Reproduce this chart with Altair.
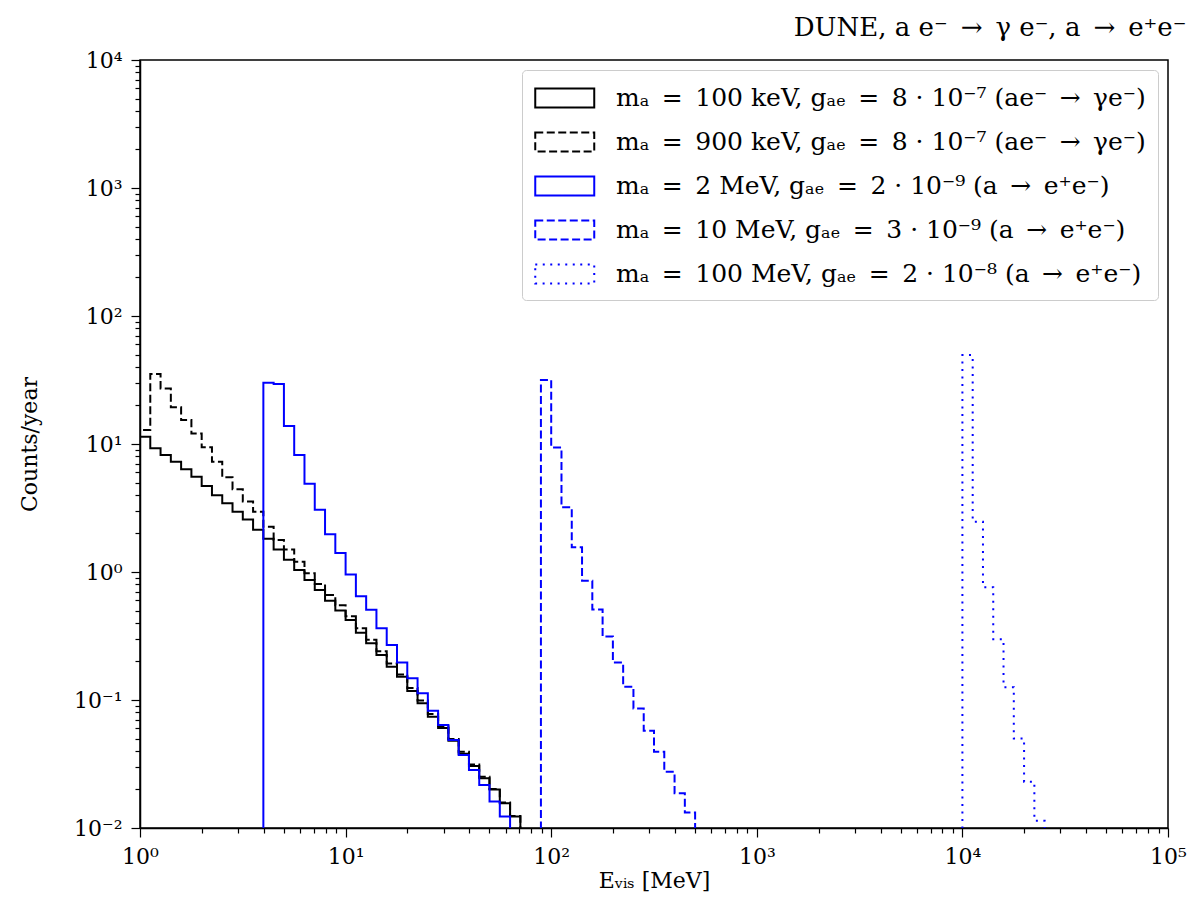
import altair as alt
import numpy as np
import pandas as pd

# Histogram binning: 20 logarithmic bins per decade from 1 MeV to 1e5 MeV
BINS_PER_DECADE = 20
BIN_EDGES = np.logspace(0, 5, 5 * BINS_PER_DECADE + 1)

SP = "\u2002"  # en space, mimics TeX math spacing around relations
SERIES = [
    f"mₐ{SP}={SP}100 keV, gₐₑ{SP}={SP}8 · 10⁻⁷ (ae⁻{SP}→{SP}γe⁻)",
    f"mₐ{SP}={SP}900 keV, gₐₑ{SP}={SP}8 · 10⁻⁷ (ae⁻{SP}→{SP}γe⁻)",
    f"mₐ{SP}={SP}2 MeV, gₐₑ{SP}={SP}2 · 10⁻⁹ (a{SP}→{SP}e⁺e⁻)",
    f"mₐ{SP}={SP}10 MeV, gₐₑ{SP}={SP}3 · 10⁻⁹ (a{SP}→{SP}e⁺e⁻)",
    f"mₐ{SP}={SP}100 MeV, gₐₑ{SP}={SP}2 · 10⁻⁸ (a{SP}→{SP}e⁺e⁻)",
]
START_BINS = [0, 0, 12, 39, 80]

COUNTS_100KEV = [11.4, 9.25, 8.2, 7.28, 6.34, 5.56, 4.70, 3.98, 3.44, 2.96,
                 2.57, 2.14, 1.82, 1.50, 1.245, 1.035, 0.865, 0.724, 0.596, 0.501,
                 0.422, 0.336, 0.277, 0.225, 0.182, 0.152, 0.1175, 0.0942, 0.0741, 0.0603,
                 0.0481, 0.038, 0.0305, 0.0245, 0.020, 0.0156, 0.0123]
COUNTS_900KEV = [12.85, 35.2, 27.2, 19.4, 15.4, 12.1, 9.42, 7.28, 5.5, 4.44,
                 3.55, 2.96, 2.26, 1.78, 1.50, 1.20, 0.977, 0.805, 0.66, 0.55,
                 0.452, 0.363, 0.295, 0.24, 0.193, 0.158, 0.124, 0.0989, 0.0776, 0.0624,
                 0.0495, 0.0394, 0.0313, 0.0251, 0.0202, 0.0158, 0.0124]
COUNTS_2MEV = [30.1, 29.4, 13.8, 8.2, 4.9, 3.07, 1.97, 1.41, 0.955, 0.646,
               0.507, 0.363, 0.269, 0.196, 0.148, 0.1127, 0.0826, 0.0638, 0.0487, 0.0372,
               0.0284, 0.0217, 0.0161, 0.0123]
COUNTS_10MEV = [31.6, 9.4, 3.2, 1.56, 0.855, 0.51, 0.313, 0.196, 0.127, 0.086,
                0.0575, 0.0394, 0.0275, 0.0187, 0.0132]
COUNTS_100MEV = [49.5, 2.47, 0.76, 0.298, 0.126, 0.050, 0.023, 0.0114]

ALL_COUNTS = [COUNTS_100KEV, COUNTS_900KEV, COUNTS_2MEV, COUNTS_10MEV, COUNTS_100MEV]

COLORS = ["#000000", "#000000", "#0000ff", "#0000ff", "#0000ff"]
DASHES = [[1, 0], [8, 3.5], [1, 0], [8, 3.5], [2, 5.5]]

X_MAJOR = [1, 10, 100, 1000, 10000, 100000]
X_LABELS = ["10⁰", "10¹", "10²", "10³", "10⁴", "10⁵"]
Y_MAJOR = [0.01, 0.1, 1, 10, 100, 1000, 10000]
Y_LABELS = ["10⁻²", "10⁻¹", "10⁰", "10¹", "10²", "10³", "10⁴"]

TITLE = f"DUNE, a e⁻{SP}→{SP}γ e⁻, a{SP}→{SP}e⁺e⁻"

FLOOR = 1e-3  # below the visible y range, clipped away (matplotlib step outline)

rows = []
for name, start, counts in zip(SERIES, START_BINS, ALL_COUNTS):
    n = len(counts)
    k = 0
    rows.append({"series": name, "x": BIN_EDGES[start], "y": FLOOR, "order": k}); k += 1
    for i, c in enumerate(counts):
        rows.append({"series": name, "x": BIN_EDGES[start + i], "y": c, "order": k}); k += 1
        rows.append({"series": name, "x": BIN_EDGES[start + i + 1], "y": c, "order": k}); k += 1
    rows.append({"series": name, "x": BIN_EDGES[start + n], "y": FLOOR, "order": k})
df = pd.DataFrame(rows)


def minor_ticks(lo_exp, hi_exp):
    vals = []
    for e in range(lo_exp, hi_exp):
        for m in range(2, 10):
            vals.append(float(f"{m}e{e}"))
    return vals


def label_expr(majors, labels):
    parts = [f"datum.value == {repr(float(v))} ? '{l}'" for v, l in zip(majors, labels)]
    return " : ".join(parts) + " : ''"


def tick_size(majors):
    arr = "[" + ",".join(repr(float(v)) for v in majors) + "]"
    return {"condition": {"test": f"indexof({arr}, datum.value) >= 0", "value": 9}, "value": 5}


FONT = "DejaVu Serif"
x_values = sorted(X_MAJOR + minor_ticks(0, 5))
y_values = sorted(Y_MAJOR + minor_ticks(-2, 4))

legend = alt.Legend(
    title=None, orient="top-right", offset=10, padding=12, rowPadding=14,
    labelFont=FONT, labelFontSize=25, labelLimit=0, labelOffset=50, labelColor="black",
    symbolType="M-1,-0.64H3V0.64H-1Z", symbolSize=870, symbolStrokeWidth=2,
    symbolFillColor="transparent",
    strokeColor="#cccccc", fillColor="white", cornerRadius=4,
)

chart = alt.Chart(df).mark_line(clip=True, strokeWidth=2).encode(
    x=alt.X("x:Q", title="Eᵥᵢₛ [MeV]",
            scale=alt.Scale(type="log", domain=[1, 1e5], nice=False),
            axis=alt.Axis(values=x_values, labelExpr=label_expr(X_MAJOR, X_LABELS),
                          tickSize=tick_size(X_MAJOR), grid=False)),
    y=alt.Y("y:Q", title="Counts/year",
            scale=alt.Scale(type="log", domain=[0.01, 1e4], nice=False),
            axis=alt.Axis(values=y_values, labelExpr=label_expr(Y_MAJOR, Y_LABELS),
                          tickSize=tick_size(Y_MAJOR), grid=False)),
    color=alt.Color("series:N", scale=alt.Scale(domain=SERIES, range=COLORS), legend=legend),
    strokeDash=alt.StrokeDash("series:N", scale=alt.Scale(domain=SERIES, range=DASHES), legend=legend),
    order="order:Q",
).properties(
    width=1028, height=768,
    title=alt.Title(TITLE, anchor="end", font=FONT, fontSize=26,
                    fontWeight="normal", offset=8, color="black"),
    autosize=alt.AutoSizeParams(type="none"),
    padding={"left": 132, "top": 52, "right": 21, "bottom": 77},
).configure_view(
    stroke="black", strokeWidth=1.5
).configure_axis(
    domainColor="black", domainWidth=1.5, tickColor="black", tickWidth=1.2,
    labelFont=FONT, labelFontSize=22, labelColor="black", labelPadding=9,
    titleFont=FONT, titleFontSize=22, titleFontWeight="normal", titleColor="black",
    labelFlush=False, labelOverlap=False,
).configure_axisY(titlePadding=32).configure_axisX(titlePadding=3)

chart.save("out.html", embed_options={"renderer": "svg", "actions": False})
